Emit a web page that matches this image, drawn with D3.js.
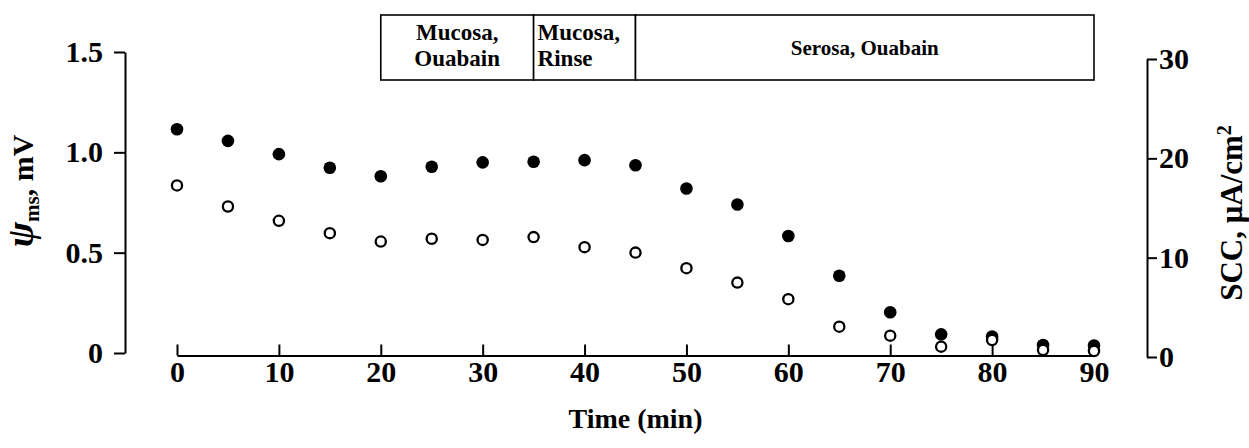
<!DOCTYPE html>
<html>
<head>
<meta charset="utf-8">
<script src="https://cdn.jsdelivr.net/npm/d3@7"></script>
<style>
  body { margin: 0; background: #fff; }
  svg { display: block; font-family: "Liberation Serif", "Times New Roman", serif; font-weight: bold; }
  .axis path, .axis line { stroke: #000; stroke-width: 2; }
  .axis text { fill: #000; font-size: 30px; font-weight: bold; font-family: "Liberation Serif", serif; }
</style>
</head>
<body>
<svg width="1249" height="448"></svg>
<script>
// time points (min)
var times = [0, 5, 10, 15, 20, 25, 30, 35, 40, 45, 50, 55, 60, 65, 70, 75, 80, 85, 90];
// psi_ms, mV (filled circles, left axis)
var psiValues = [1.115, 1.057, 0.991, 0.923, 0.881, 0.928, 0.950, 0.953, 0.961, 0.936, 0.820, 0.740, 0.583, 0.385, 0.203, 0.093, 0.082, 0.040, 0.037];
// SCC, uA/cm2 (open circles, right axis)
var sccValues = [17.27, 15.15, 13.71, 12.47, 11.62, 11.9, 11.79, 12.07, 11.06, 10.51, 8.94, 7.49, 5.82, 3.05, 2.15, 1.04, 1.71, 0.70, 0.60];

var xTicks = [0, 10, 20, 30, 40, 50, 60, 70, 80, 90];
var leftTicks = [0, 0.5, 1.0, 1.5];
var rightTicks = [0, 10, 20, 30];

// treatment periods shown in the box on top
var periodStart = [20, 35, 45];
var periodEnd = [35, 45, 90];
var periodLines = [["Mucosa,", "Ouabain"], ["Mucosa,", "Rinse"], ["Serosa, Ouabain"]];

var svg = d3.select("svg");

var x = d3.scaleLinear().domain([0, 90]).range([177, 1094]);
var yL = d3.scaleLinear().domain([0, 1.5]).range([353, 52]);
var yR = d3.scaleLinear().domain([0, 30]).range([357, 59]);

var axisY = 355.5;

// x axis, ticks pointing up
svg.append("g")
    .attr("class", "axis")
    .attr("transform", "translate(0," + axisY + ")")
    .call(d3.axisBottom(x).tickValues(xTicks).tickSizeInner(-11).tickSizeOuter(0).tickPadding(5))
    .selectAll("text").attr("y", 5);

svg.append("g")
    .attr("class", "axis")
    .attr("transform", "translate(125,0)")
    .call(d3.axisLeft(yL).tickValues(leftTicks).tickSizeInner(11).tickSizeOuter(0).tickPadding(11)
      .tickFormat(function(d) { return d === 0 ? "0" : d3.format(".1f")(d); }));

svg.append("g")
    .attr("class", "axis")
    .attr("transform", "translate(1147,0)")
    .call(d3.axisRight(yR).tickValues(rightTicks).tickSizeInner(10).tickSizeOuter(0).tickPadding(2));

// axis titles
svg.append("text")
    .attr("x", x(45))
    .attr("y", 428)
    .attr("text-anchor", "middle")
    .style("font-size", "28px")
    .text("Time (min)");

var lt = svg.append("text")
    .attr("transform", "translate(33,191) rotate(-90)")
    .attr("text-anchor", "middle")
    .style("font-size", "30px");
lt.append("tspan").style("font-style", "italic").style("font-size", "38px").text("\u03c8");
lt.append("tspan").attr("dy", 6).style("font-size", "21px").text("ms");
lt.append("tspan").attr("dy", -6).text(", mV");

var rt = svg.append("text")
    .attr("transform", "translate(1242,213) rotate(-90)")
    .attr("text-anchor", "middle")
    .style("font-size", "31px");
rt.append("tspan").text("SCC, \u03bcA/cm");
rt.append("tspan").attr("dy", -11).style("font-size", "20px").text("2");

// treatment box
var box = svg.append("g");
var periods = periodStart.map(function(s, i) { return { s: s, e: periodEnd[i], lines: periodLines[i] }; });

box.selectAll("rect")
    .data(periods)
    .enter().append("rect")
    .attr("x", function(d) { return x(d.s); })
    .attr("y", 15)
    .attr("width", function(d) { return x(d.e) - x(d.s); })
    .attr("height", 65)
    .attr("fill", "#fff")
    .attr("stroke", "#000")
    .attr("stroke-width", 1.6);

box.selectAll("text")
    .data(periods)
    .enter().append("text")
    .attr("text-anchor", function(d, i) { return i === 1 ? "start" : "middle"; })
    .style("font-size", "23px")
    .each(function(d, i) {
      var t = d3.select(this);
      var cx = i === 1 ? x(d.s) + 4 : (x(d.s) + x(d.e)) / 2;
      if (d.lines.length === 1) {
        t.append("tspan").attr("x", cx).attr("y", 55).style("font-size", "21px").text(d.lines[0]);
      } else {
        d.lines.forEach(function(l, j) {
          t.append("tspan").attr("x", cx).attr("y", 40 + j * 26).text(l);
        });
      }
    });

// data points
var data = times.map(function(t, i) { return { t: t, psi: psiValues[i], scc: sccValues[i] }; });

svg.append("g").selectAll("circle")
    .data(data)
    .enter().append("circle")
    .attr("cx", function(d) { return x(d.t); })
    .attr("cy", function(d) { return yL(d.psi); })
    .attr("r", 6.3)
    .attr("fill", "#000");

svg.append("g").selectAll("circle")
    .data(data)
    .enter().append("circle")
    .attr("cx", function(d) { return x(d.t); })
    .attr("cy", function(d) { return yR(d.scc); })
    .attr("r", 5.1)
    .attr("fill", "#fff")
    .attr("stroke", "#000")
    .attr("stroke-width", 2.3);
</script>
</body>
</html>
